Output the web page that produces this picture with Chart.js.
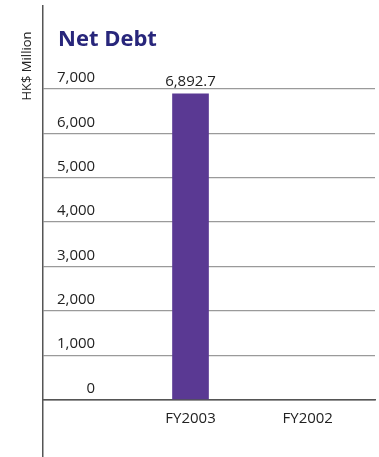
<!DOCTYPE html>
<html>
<head>
<meta charset="utf-8">
<script src="https://cdn.jsdelivr.net/npm/chart.js@4"></script>
<style>
  body { margin: 0; background: #fff; }
  #wrap { position: relative; width: 379px; height: 457px; }
  #chart-title {
    position: absolute; left: 58px; top: 26px;
    font: bold 22px "Open Sans", sans-serif; line-height: 22px;
    color: #28267b; margin: 0;
  }
  #unit {
    position: absolute; left: 26px; top: 66px;
    font: 13px "Open Sans", sans-serif; color: #222;
    transform: translate(-50%, -50%) rotate(-90deg);
    white-space: nowrap;
  }
</style>
</head>
<body>
<div id="wrap">
  <canvas id="net-debt-chart" width="379" height="457"></canvas>
  <div id="chart-title">Net Debt</div>
  <div id="unit">HK$ Million</div>
</div>
<script>
// data
const categories = ['FY2003', 'FY2002'];
const netDebt = [6892.7, null];
const yTicks = [0, 1000, 2000, 3000, 4000, 5000, 6000, 7000];

const fmt = (v, d) => v.toLocaleString('en-US', { minimumFractionDigits: d, maximumFractionDigits: d });

// value label above each bar
const barLabels = {
  id: 'barLabels',
  afterDatasetsDraw(chart) {
    const ctx = chart.ctx;
    const meta = chart.getDatasetMeta(0);
    ctx.save();
    ctx.font = '15px "Open Sans", sans-serif';
    ctx.fillStyle = '#222';
    ctx.textAlign = 'center';
    ctx.textBaseline = 'alphabetic';
    meta.data.forEach((bar, i) => {
      if (netDebt[i] == null) return;
      ctx.fillText(fmt(netDebt[i], 1), bar.x, bar.y - 8);
    });
    ctx.restore();
  }
};

const chart = new Chart(document.querySelector('#net-debt-chart').getContext('2d'), {
  type: 'bar',
  data: {
    datasets: [{
      data: categories.map((c, i) => ({ x: i + 1, y: netDebt[i] })),
      backgroundColor: '#5a3993',
      barThickness: 36
    }]
  },
  options: {
    responsive: false,
    animation: false,
    layout: { padding: { top: 6, right: 4, bottom: 0, left: 15 } },
    plugins: { legend: { display: false }, tooltip: { enabled: false } },
    scales: {
      x: {
        type: 'linear',
        offset: false,
        position: { y: 0 },
        min: -0.2585,
        max: 2.574,
        afterBuildTicks: s => { s.ticks = categories.map((c, i) => ({ value: i + 1 })); },
        grid: { display: false },
        border: { color: '#555', width: 1.5 },
        ticks: {
          padding: 2,
          color: '#222',
          font: { family: 'Open Sans', size: 15 },
          callback: v => categories[v - 1]
        }
      },
      y: {
        min: -1296,
        max: 8871,
        afterBuildTicks: s => { s.ticks = yTicks.map(v => ({ value: v })); },
        afterFit: s => { s.paddingTop = 0; s.paddingBottom = 0; },
        grid: {
          drawTicks: false,
          color: ctx => ctx.tick && ctx.tick.value === 0 ? '#555' : '#9a9a9a',
          lineWidth: 1.2
        },
        border: { color: '#555', width: 1.5 },
        ticks: {
          mirror: true,
          crossAlign: 'far',
          padding: 14,
          labelOffset: -11,
          color: '#222',
          font: { family: 'Open Sans', size: 15 },
          callback: v => fmt(v, 0)
        }
      }
    }
  },
  plugins: [barLabels]
});
</script>
</body>
</html>
